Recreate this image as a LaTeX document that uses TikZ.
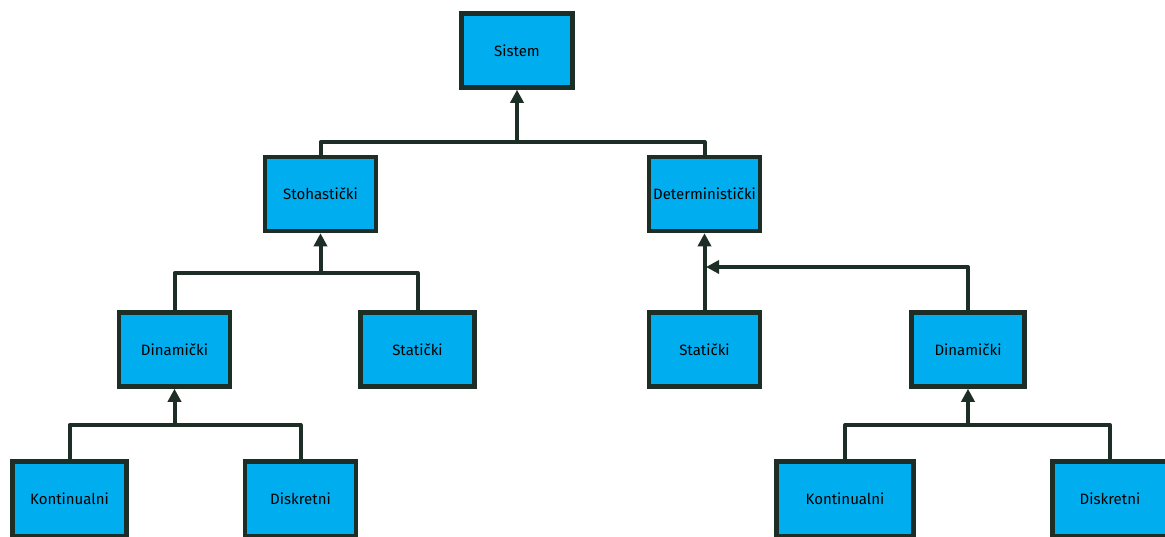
\documentclass[tikz,border=0pt]{standalone}
\usepackage{fontspec}
\setmainfont{Fira Sans}
\usetikzlibrary{arrows.meta}
\definecolor{boxfill}{HTML}{00AEEF}
\definecolor{edgecol}{HTML}{1C2E26}
\begin{document}
\begin{tikzpicture}[x=1pt,y=-1pt,
 box/.style={draw=edgecol,fill=boxfill,line width=4.5pt,inner sep=0pt,
   minimum width=111pt,minimum height=74pt,font=\fontsize{15}{17}\selectfont},
 conn/.style={draw=edgecol,line width=4pt,line join=round},
 arr/.style={conn,-{Triangle[width=13pt,length=13pt]}}]
\useasboundingbox (0,0) rectangle (1165,536);
\node[box] (sis) at (517,50.5) {Sistem};
\node[box] (sto) at (320.5,194) {Stohastički};
\node[box] (det) at (704.5,194) {Deterministički};
\node[box] (din1) at (174.5,349.5) {Dinamički};
\node[box,minimum width=114pt] (sta1) at (417.5,349.5) {Statički};
\node[box] (sta2) at (704.5,349.5) {Statički};
\node[box,minimum width=113pt] (din2) at (968,349.5) {Dinamički};
\node[box,minimum width=114pt,minimum height=75pt] (kon1) at (69.5,499) {Kontinualni};
\node[box,minimum height=75pt] (dis1) at (300.5,499) {Diskretni};
\node[box,minimum width=137pt,minimum height=75pt] (kon2) at (845,499) {Kontinualni};
\node[box,minimum width=115pt,minimum height=75pt] (dis2) at (1110,499) {Diskretni};
% Sistem
\coordinate (j1) at (517,142);
\draw[conn] (sto.north) |- (j1) -| (det.north);
\draw[arr] (j1) -- (sis.south);
% Stohasticki
\coordinate (j2) at (320.5,273);
\draw[conn] (din1.north) |- (j2) -| (sta1.north);
\draw[arr] (j2) -- (sto.south);
% Dinamicki left
\coordinate (j3) at (174.5,425);
\draw[conn] (kon1.north) |- (j3) -| (dis1.north);
\draw[arr] (j3) -- (din1.south);
% Deterministicki
\coordinate (j4) at (706,267);
\draw[arr] (sta2.north) -- (det.south);
\draw[arr] (din2.north) |- (j4);
% Dinamicki right
\coordinate (j5) at (968,425);
\draw[conn] (kon2.north) |- (j5) -| (dis2.north);
\draw[arr] (j5) -- (din2.south);
\end{tikzpicture}
\end{document}
